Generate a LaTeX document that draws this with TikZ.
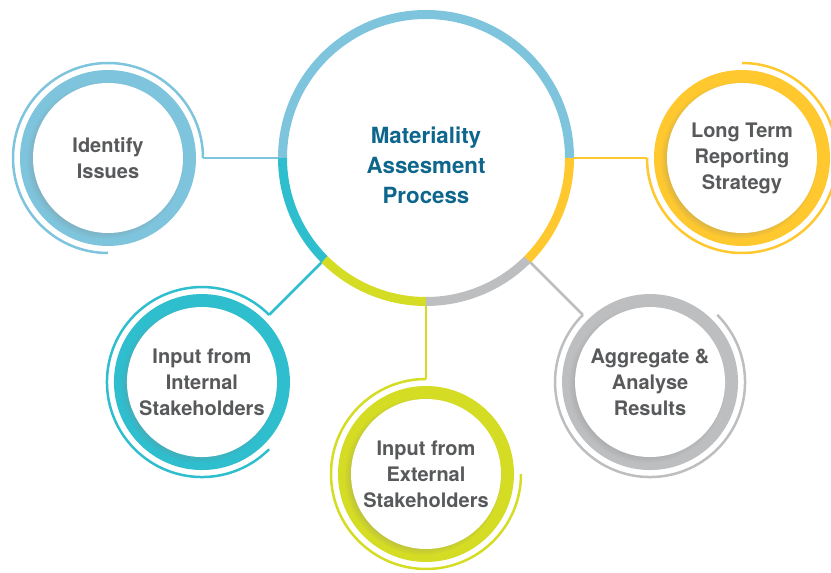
\documentclass[tikz,border=0pt]{standalone}
\usepackage{fontspec}
\setmainfont{TeX Gyre Heros}
\usepackage{tikz}
\usetikzlibrary{positioning,backgrounds,shadows,fadings}
\definecolor{issuesblue}{HTML}{7EC4DC}
\definecolor{internalteal}{HTML}{2FBECE}
\definecolor{externallime}{HTML}{D4DC24}
\definecolor{resultsgray}{HTML}{BDBEC0}
\definecolor{strategyyellow}{HTML}{FEC82E}
\definecolor{titleblue}{HTML}{0E668C}
\definecolor{labelgray}{HTML}{58595B}

\begin{document}
\begin{tikzpicture}
	[x=1pt, y=1pt, inner sep=0pt, outer sep=0pt,
	hub/.style		= {circle, minimum size=287pt},
	title/.style	= {align=center, text=titleblue, font=\fontsize{22.3}{30}\selectfont\bfseries},
	stage/.style	= {circle, minimum size=190pt, align=center, text=labelgray, font=\fontsize{20}{26}\selectfont\bfseries},
	band/.style		= {line width=9pt},
	halo/.style		= {line width=2.5pt},
	link/.style		= {line width=2.5pt},
	disc/.style		= {fill=white, circular drop shadow={shadow xshift=-3pt, shadow yshift=-2pt, shadow scale=1.05, opacity=.42}}]

	\useasboundingbox (0,0) rectangle (831,573);

	\node [hub]		at (426,415)								(mat)	{};
	\node [title]	at ([yshift=-7pt]mat.center)				(ttl)	{Materiality\\Assesment\\Process};
	\node [stage]	[left  = 79.5pt of mat]						(iss)	{Identify\\Issues};
	\node [stage]	[right = 77.5pt of mat]						(lts)	{Long Term\\Reporting\\Strategy};
	\node [stage]	[below left  = 55.4pt and 55.4pt of mat]	(int)	{Input from\\Internal\\Stakeholders};
	\node [stage]	[below = 77.5pt of mat]						(ext)	{Input from\\External\\Stakeholders};
	\node [stage]	[below right = 55.4pt and 55.4pt of mat]	(agg)	{Aggregate \&\\Analyse\\Results};

	\begin{scope}[on background layer]
	% links from the hub
	\draw [link, issuesblue]		(mat.west)			-- (iss.east);
	\draw [link, strategyyellow]	(mat.east)			-- (lts.west);
	\draw [link, internalteal]		(mat.south west)	-- (int.north east);
	\draw [link, externallime]		(mat.south)			-- (ext.north);
	\draw [link, resultsgray]		(mat.south east)	-- (agg.north west);

	% hub ring
	\draw [band, issuesblue]		(mat.east)			arc [start angle=0,   end angle=180, radius=143.5pt];
	\draw [band, internalteal]		(mat.west)			arc [start angle=180, end angle=225, radius=143.5pt];
	\draw [band, externallime]		(mat.south west)	arc [start angle=225, end angle=270, radius=143.5pt];
	\draw [band, resultsgray]		(mat.south)			arc [start angle=270, end angle=315, radius=143.5pt];
	\draw [band, strategyyellow]	(mat.south east)	arc [start angle=315, end angle=360, radius=143.5pt];

	% outer halos
	\draw [halo, issuesblue]		(iss.east)			arc [start angle=0,   end angle=270, radius=95pt];
	\draw [halo, strategyyellow]	(lts.west)			arc [start angle=180, end angle=450, radius=95pt];
	\draw [halo, internalteal]		(int.north east)	arc [start angle=45,  end angle=315, radius=95pt];
	\draw [halo, externallime]		(ext.north)			arc [start angle=90,  end angle=360, radius=95pt];
	\draw [halo, resultsgray]		(agg.north west)	arc [start angle=135, end angle=405, radius=95pt];

	% thick rings
	\fill [issuesblue]		(iss) circle (88pt);
	\fill [strategyyellow]	(lts) circle (88pt);
	\fill [internalteal]	(int) circle (88pt);
	\fill [externallime]	(ext) circle (88pt);
	\fill [resultsgray]		(agg) circle (88pt);
	\path [disc] (iss) circle (75pt);
	\path [disc] (lts) circle (75pt);
	\path [disc] (int) circle (75pt);
	\path [disc] (ext) circle (75pt);
	\path [disc] (agg) circle (75pt);
	\end{scope}
\end{tikzpicture}
\end{document}
